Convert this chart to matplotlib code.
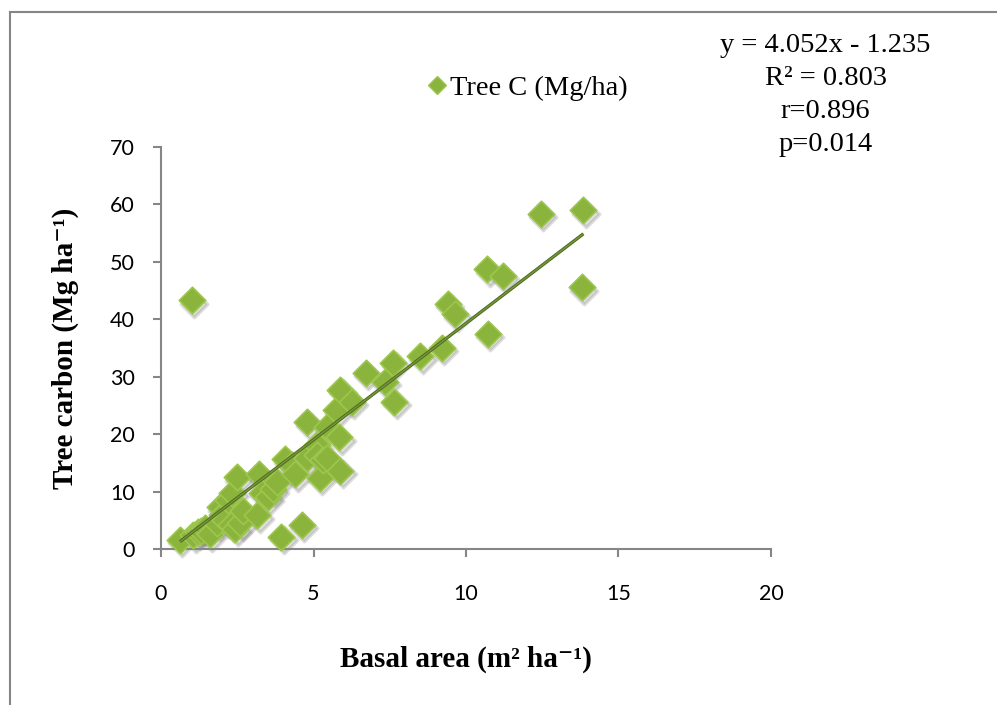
import matplotlib
matplotlib.use("Agg")
import matplotlib.pyplot as plt
import matplotlib.transforms as mtransforms
from matplotlib.lines import Line2D
import numpy as np

# basal area (m2/ha) and tree carbon (Mg/ha) per plot
basal_area = [0.62, 1.0, 1.05, 1.2, 1.3, 1.44, 1.6, 1.84, 1.93, 2.0, 2.1, 2.2,
              2.3, 2.33, 2.43, 2.49, 2.6, 2.69, 3.15, 3.2, 3.3, 3.5, 3.67, 3.8,
              3.95, 4.07, 4.3, 4.4, 4.62, 4.79, 4.79, 5.11, 5.11, 5.21, 5.3,
              5.44, 5.44, 5.74, 5.84, 5.87, 5.87, 6.26, 6.72, 7.34, 7.61, 7.64,
              8.5, 9.2, 9.4, 9.64, 10.7, 10.72, 11.2, 12.45, 13.8, 13.85]
tree_carbon = [1.6, 43.3, 2.4, 2.9, 3.2, 3.7, 2.6, 4.5, 7.3, 6.0, 5.0, 8.6,
               4.2, 9.8, 3.5, 12.5, 4.5, 6.6, 5.9, 13.0, 9.8, 9.0, 10.4, 11.7,
               2.1, 15.6, 14.6, 13.0, 4.2, 15.9, 22.1, 18.1, 16.4, 12.4, 15.5,
               21.3, 15.9, 24.2, 19.5, 13.6, 27.7, 25.6, 30.7, 29.1, 32.4, 25.6,
               33.6, 35.0, 42.7, 40.9, 48.7, 37.5, 47.6, 58.4, 45.6, 59.0]

slope, intercept = 4.052, -1.235
stats_lines = ["y = 4.052x - 1.235", "R² = 0.803", "r=0.896", "p=0.014"]

x_ticks = [0, 5, 10, 15, 20]
y_ticks = [0, 10, 20, 30, 40, 50, 60, 70]

face = '#8ab43c'
edge = '#9dc64e'
axis_grey = '#868686'
serif = ['Liberation Serif', 'DejaVu Serif']

fig = plt.figure(figsize=(9.97, 7.05), dpi=100)
ax = fig.add_axes([0.1615, 0.2213, 0.6118, 0.5702])

# drop shadow under the markers
shadow_tr = mtransforms.offset_copy(ax.transData, fig=fig, x=2.5, y=-3.5, units='dots')
ax.scatter(basal_area, tree_carbon, marker='D', s=13.5**2, color='#7f7f7f',
           alpha=0.25, linewidths=2.5, edgecolors='#7f7f7f',
           transform=shadow_tr, zorder=2, clip_on=False)
ax.scatter(basal_area, tree_carbon, marker='D', s=13.5**2, facecolor=face,
           edgecolors=edge, linewidths=1.2, zorder=3, clip_on=False)

# linear fit line over the data range
xs = np.array([min(basal_area), max(basal_area)])
ax.plot(xs, slope * xs + intercept, color='#4f6b22', lw=2.4, zorder=4,
        solid_capstyle='butt')
ax.plot(xs, slope * xs + intercept, color='#76963a', lw=1.0, zorder=5,
        solid_capstyle='butt')

ax.set_xlim(0, 20)
ax.set_ylim(0, 70)
ax.set_xticks(x_ticks)
ax.set_yticks(y_ticks)
for s in ['top', 'right']:
    ax.spines[s].set_visible(False)
for s in ['left', 'bottom']:
    ax.spines[s].set_color(axis_grey)
    ax.spines[s].set_linewidth(1.5)
ax.tick_params(axis='both', colors=axis_grey, width=1.5, length=6,
               labelcolor='black', labelsize=15.5)
ax.tick_params(axis='x', pad=19)
ax.tick_params(axis='y', pad=13)
for lab in ax.get_xticklabels() + ax.get_yticklabels():
    lab.set_fontfamily('Lato')

ax.set_xlabel('Basal area (m² ha⁻¹)', fontfamily=serif, fontweight='bold',
              fontsize=21, labelpad=30)
ax.set_ylabel('Tree carbon (Mg ha⁻¹)', fontfamily=serif, fontweight='bold',
              fontsize=21, labelpad=22)

handle = Line2D([], [], marker='D', linestyle='none', markersize=9,
                markerfacecolor=face, markeredgecolor=edge)
fig.legend(handles=[handle], labels=['Tree C (Mg/ha)'], loc='center left',
           bbox_to_anchor=(0.413, 0.875), frameon=False, handletextpad=0.05,
           handlelength=0.8, borderpad=0,
           prop={'family': serif, 'size': 20.5})

for i, line in enumerate(stats_lines):
    fig.text(0.828, 0.936 - i * 0.047, line, ha='center', va='center',
             fontfamily=serif, fontsize=20.5)

# chart area border (left and top edges)
fig.add_artist(Line2D([10 / 997, 10 / 997], [0, 1 - 12 / 705],
                      color=axis_grey, lw=1.5, transform=fig.transFigure))
fig.add_artist(Line2D([10 / 997, 1], [1 - 12 / 705, 1 - 12 / 705],
                      color=axis_grey, lw=1.5, transform=fig.transFigure))

fig.savefig('out.png', dpi=100)
